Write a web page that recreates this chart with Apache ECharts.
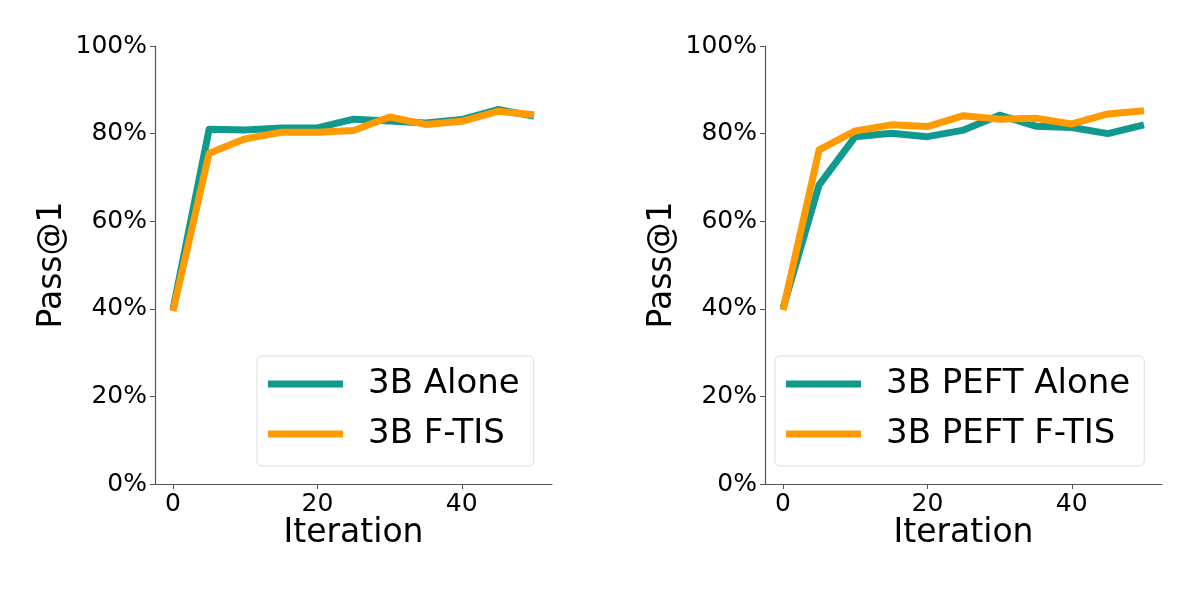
<!DOCTYPE html>
<html>
<head>
<meta charset="utf-8">
<script src="https://cdn.jsdelivr.net/npm/echarts@6/dist/echarts.min.js"></script>
<style>html,body{margin:0;padding:0;background:#fff}#c{width:1200px;height:589px}</style>
</head>
<body>
<div id="c"></div>
<script>
const iterations = [0, 5, 10, 15, 20, 25, 30, 35, 40, 45, 50];
const leftAlone = [39.9, 81.0, 80.8, 81.3, 81.3, 83.3, 82.9, 82.4, 83.2, 85.5, 84.0];
const leftFTIS  = [39.5, 75.5, 78.8, 80.3, 80.3, 80.7, 83.8, 82.1, 82.8, 85.1, 84.3];
const rightAlone = [40.2, 68.3, 79.3, 80.1, 79.3, 80.8, 84.2, 81.7, 81.4, 80.0, 82.0];
const rightFTIS  = [39.7, 76.3, 80.6, 82.0, 81.6, 84.1, 83.3, 83.5, 82.2, 84.5, 85.2];
const xTicks = [0, 20, 40];
const yTicks = [0, 20, 40, 60, 80, 100];
const names = ['3B Alone', '3B F-TIS', '3B PEFT Alone', '3B PEFT F-TIS'];

const TEAL = '#10998d';
const ORANGE = '#ff9a00';
const FONT = 'DejaVu Sans';
const zip = (xs, ys) => xs.map((x, i) => [x, ys[i]]);

function xAxis(gi) {
  return {
    type: 'value', gridIndex: gi, min: -2.5, max: 52.5,
    name: 'Iteration', nameLocation: 'middle', nameGap: 33, nameMoveOverlap: false,
    nameTextStyle: { fontFamily: FONT, fontSize: 33, color: '#000' },
    axisLine: { show: true, onZero: false, lineStyle: { color: '#555', width: 1.2 } },
    axisTick: { show: true, inside: false, length: 5, customValues: xTicks, lineStyle: { color: '#555' } },
    axisLabel: { customValues: xTicks, fontFamily: FONT, fontSize: 25, color: '#000', margin: 8 },
    splitLine: { show: false }
  };
}
function yAxis(gi) {
  return {
    type: 'value', gridIndex: gi, min: 0, max: 100, interval: 20,
    name: 'Pass@1', nameLocation: 'middle', nameGap: 86, nameRotate: 90, nameMoveOverlap: false,
    nameTextStyle: { fontFamily: FONT, fontSize: 33, color: '#000' },
    axisLine: { show: true, onZero: false, lineStyle: { color: '#555', width: 1.2 } },
    axisTick: { show: true, inside: false, length: 5, lineStyle: { color: '#555' } },
    axisLabel: { formatter: '{value}%', fontFamily: FONT, fontSize: 25, color: '#000', margin: 8 },
    splitLine: { show: false }
  };
}
function line(name, gi, ys, color) {
  return {
    name, type: 'line', xAxisIndex: gi, yAxisIndex: gi,
    data: zip(iterations, ys), showSymbol: false, symbol: 'none',
    lineStyle: { color, width: 7, join: 'round' }, itemStyle: { color },
    z: color === ORANGE ? 3 : 2, animation: false
  };
}
function legend(data, left, top) {
  return {
    data, orient: 'vertical', left, top,
    icon: 'rect', itemWidth: 75, itemHeight: 7, itemGap: 14,
    padding: [10, 14, 14, 11],
    borderColor: '#dcdcdc', borderWidth: 1, borderRadius: 5, backgroundColor: 'rgba(255,255,255,0.8)',
    textStyle: { fontFamily: FONT, fontSize: 34, color: '#000', padding: [0, 0, 0, 20], lineHeight: 36 },
    selectedMode: false
  };
}

const chart = echarts.init(document.getElementById('c'), null, { renderer: 'canvas' });
chart.setOption({
  animation: false,
  grid: [
    { left: 155, right: 648, top: 46, bottom: 105 },
    { left: 765, right: 38, top: 46, bottom: 105 }
  ],
  xAxis: [xAxis(0), xAxis(1)],
  yAxis: [yAxis(0), yAxis(1)],
  legend: [
    legend([names[0], names[1]], 257, 356),
    legend([names[2], names[3]], 775, 356)
  ],
  series: [
    line(names[0], 0, leftAlone, TEAL),
    line(names[1], 0, leftFTIS, ORANGE),
    line(names[2], 1, rightAlone, TEAL),
    line(names[3], 1, rightFTIS, ORANGE)
  ]
});
</script>
</body>
</html>
